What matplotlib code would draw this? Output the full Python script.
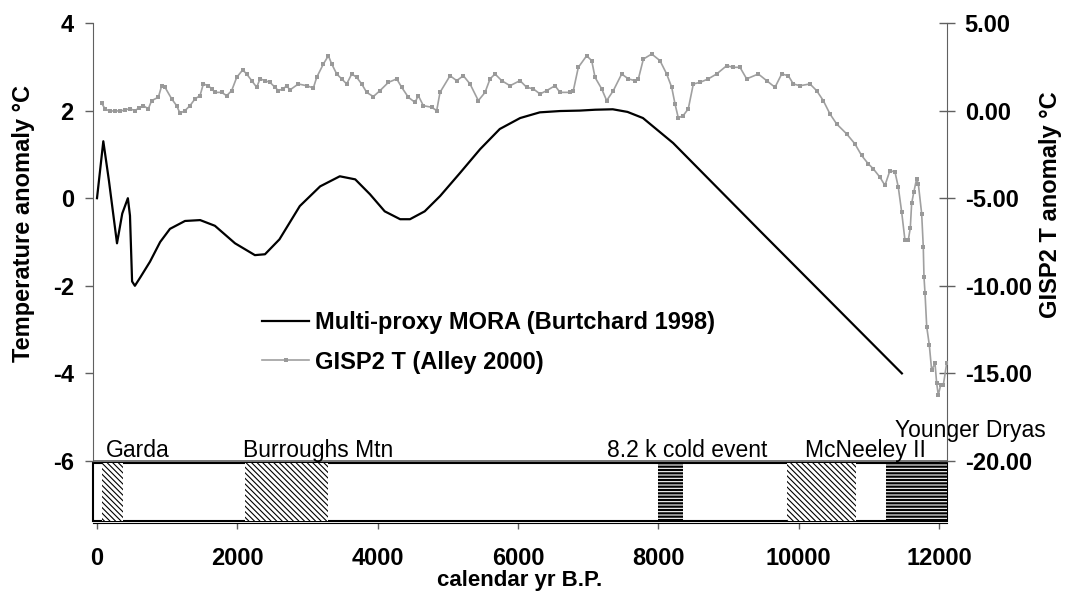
import matplotlib
matplotlib.use("Agg")
import matplotlib.pyplot as plt
from matplotlib.patches import Rectangle

plt.rcParams['font.family'] = ['Liberation Sans', 'DejaVu Sans']
plt.rcParams['hatch.linewidth'] = 0.8

# Multi-proxy MORA (Burtchard 1998), left axis, deg C
mora_yr = [0, 90, 170, 285, 360, 440, 470, 500, 540, 620, 755, 900, 1040, 1254,
           1470, 1680, 1967, 2250, 2394, 2600, 2890, 3180, 3460, 3680, 3890,
           4100, 4320, 4460, 4670, 4890, 5170, 5460, 5740, 6030, 6310, 6600,
           6880, 7100, 7350, 7560, 7780, 8210, 9450, 11470]
mora_t = [0.0, 1.3, 0.4, -1.03, -0.35, 0.0, -0.4, -1.9, -2.0, -1.8, -1.45, -1.0,
          -0.7, -0.52, -0.5, -0.63, -1.03, -1.3, -1.28, -0.94, -0.18, 0.27, 0.5,
          0.43, 0.09, -0.3, -0.48, -0.48, -0.3, 0.05, 0.57, 1.12, 1.58, 1.83,
          1.96, 1.99, 2.0, 2.02, 2.03, 1.97, 1.83, 1.26, -0.75, -4.0]

# GISP2 T (Alley 2000), right axis, deg C
gisp_yr = [67, 114, 185, 260, 328, 400, 470, 540, 600, 660, 731, 779, 874, 922,
           969, 1064, 1135, 1183, 1254, 1325, 1397, 1468, 1515, 1586, 1634, 1682,
           1777, 1848, 1919, 1991, 2076, 2133, 2204, 2276, 2323, 2394, 2466,
           2537, 2584, 2655, 2703, 2750, 2869, 2988, 3083, 3131, 3226, 3297,
           3345, 3416, 3487, 3558, 3630, 3701, 3772, 3843, 3938, 4033, 4152,
           4271, 4342, 4437, 4532, 4579, 4651, 4770, 4841, 4888, 5031, 5126,
           5221, 5316, 5434, 5530, 5601, 5672, 5767, 5886, 6028, 6123, 6218,
           6313, 6408, 6527, 6598, 6741, 6788, 6859, 6978, 7050, 7097, 7192,
           7263, 7358, 7477, 7572, 7667, 7715, 7786, 7905, 8023, 8118, 8190,
           8237, 8284, 8355, 8426, 8498, 8593, 8711, 8830, 8973, 9068, 9163,
           9258, 9424, 9543, 9662, 9757, 9852, 9923, 10018, 10160, 10255, 10350,
           10445, 10540, 10683, 10801, 10896, 10991, 11062, 11157, 11229, 11300,
           11372, 11419, 11467, 11514, 11561, 11590, 11609, 11640, 11680, 11704,
           11752, 11775, 11785, 11800, 11824, 11861, 11894, 11942, 11966, 11989,
           12023, 12061, 12108]
gisp_t = [0.42, 0.1, -0.04, 0.0, -0.04, 0.05, 0.1, 0.0, 0.15, 0.28, 0.1, 0.57,
          0.76, 1.42, 1.33, 0.67, 0.28, -0.15, 0.0, 0.28, 0.67, 0.85, 1.52, 1.42,
          1.24, 1.04, 1.04, 0.85, 1.14, 1.9, 2.32, 2.09, 1.71, 1.33, 1.81, 1.71,
          1.61, 1.33, 1.14, 1.24, 1.42, 1.18, 1.52, 1.42, 1.29, 1.9, 2.66, 3.13,
          2.66, 2.09, 1.81, 1.52, 2.09, 1.9, 1.52, 1.04, 0.8, 1.14, 1.61, 1.81,
          1.33, 0.76, 0.47, 0.85, 0.28, 0.19, 0.0, 1.04, 1.99, 1.71, 1.99, 1.52,
          0.57, 1.04, 1.81, 2.09, 1.71, 1.42, 1.71, 1.33, 1.24, 0.95, 1.14, 1.42,
          1.04, 1.04, 1.14, 2.47, 3.13, 2.85, 1.9, 1.24, 0.57, 1.14, 2.09, 1.81,
          1.71, 1.81, 2.94, 3.23, 2.85, 2.09, 1.33, 0.38, -0.42, -0.28, 0.1, 1.52,
          1.61, 1.81, 2.09, 2.56, 2.47, 2.47, 1.81, 2.09, 1.71, 1.33, 2.09, 1.99,
          1.52, 1.42, 1.52, 1.14, 0.57, -0.19, -0.76, -1.33, -1.9, -2.56, -3.04,
          -3.32, -3.8, -4.27, -3.42, -3.51, -4.37, -5.79, -7.4, -7.4, -6.7, -5.3,
          -4.65, -3.89, -4.17, -5.88, -7.78, -9.49, -10.44, -12.34, -13.38,
          -14.81, -14.43, -15.57, -16.23, -15.66, -15.66, -14.43]

# cold events shown in the lower box
event_names = ['Garda', 'Burroughs Mtn', '8.2 k cold event', 'McNeeley II', 'Younger Dryas']
event_start = [67, 2110, 7995, 9833, 11244]
event_end = [375, 3290, 8350, 10817, 12113]
event_label_x = [128, 2081, 7268, 10090, 11372]

x_ticks = [0, 2000, 4000, 6000, 8000, 10000, 12000]
left_ticks = [4, 2, 0, -2, -4, -6]
right_ticks = [5, 0, -5, -10, -15, -20]

fig = plt.figure(figsize=(10.7, 5.96), dpi=100)
ax = fig.add_axes([93 / 1070, 1 - 523 / 596, (947 - 93) / 1070, (523 - 23) / 596])
ax2 = ax.twinx()

xmin, xmax = -57, 12113
ymin, ymax = -7.416, 4
ax.set_xlim(xmin, xmax)
ax.set_ylim(ymin, ymax)
ax2.set_ylim(2.5 * ymin - 5, 2.5 * ymax - 5)

gray = '#a0a0a0'
l2, = ax2.plot(gisp_yr, gisp_t, color=gray, lw=1.2, marker='s', markersize=3.2,
               markeredgewidth=0, markerfacecolor='#999999', label='GISP2 T (Alley 2000)', zorder=3)
l1, = ax.plot(mora_yr, mora_t, color='black', lw=1.6, label='Multi-proxy MORA (Burtchard 1998)', zorder=4)

# lower event box
ax.axhline(-6, color='#606060', lw=1.2, zorder=2)
ax.add_patch(Rectangle((xmin, -7.37), xmax - xmin, 1.33, facecolor='white',
                       edgecolor='black', lw=1.5, zorder=1, clip_on=False))
hatches = ['\\' * 6, '\\' * 6, '-----', '\\' * 6, '-----']
for name, x0, x1, lx, h in zip(event_names, event_start, event_end, event_label_x, hatches):
    if h.startswith('-'):
        ax.add_patch(Rectangle((x0, -7.37), x1 - x0, 1.33, facecolor='black',
                               edgecolor='white', hatch=h, lw=0, zorder=2))
    else:
        ax.add_patch(Rectangle((x0, -7.37), x1 - x0, 1.33, facecolor='white',
                               edgecolor='black', hatch=h, lw=0, zorder=2))
    ly = -5.46 if name == 'Younger Dryas' else -5.91
    ax.text(lx, ly, name, fontsize=16.5, va='baseline', ha='left', zorder=5)

# axes styling
ax.spines['top'].set_visible(False)
ax2.spines['top'].set_visible(False)
ax2.spines['left'].set_visible(False)
ax2.spines['bottom'].set_visible(False)
ax.spines['right'].set_visible(False)
ax.spines['left'].set_color('#606060')
ax.spines['left'].set_bounds(-6, 4)
ax2.spines['right'].set_color('#606060')
ax2.spines['right'].set_bounds(-20, 5)
ax.spines['bottom'].set_color('black')

ax.set_xticks(x_ticks)
ax.set_xticklabels([str(v) for v in x_ticks], fontsize=17, fontweight='bold')
ax.set_yticks(left_ticks)
ax.set_yticklabels([str(v) for v in left_ticks], fontsize=17, fontweight='bold')
ax2.set_yticks(right_ticks)
ax2.set_yticklabels(['%.2f' % v for v in right_ticks], fontsize=17, fontweight='bold')

ax.tick_params(axis='y', direction='out', length=5.8, width=1, color='#606060', pad=8)
ax.tick_params(axis='x', direction='out', length=4.5, width=1, color='#606060', pad=12.5)
ax2.tick_params(axis='y', direction='inout', length=11.5, width=1, color='#606060', pad=7)

ax.set_xlabel('calendar yr B.P.', fontsize=16, fontweight='bold', labelpad=0.5)
fig.text(23.5 / 1070, 1 - 224 / 596, 'Temperature anomaly °C', rotation=90,
         fontsize=17, fontweight='bold', ha='center', va='center')
fig.text(1050 / 1070, 1 - 205 / 596, 'GISP2 T anomaly °C', rotation=90,
         fontsize=17, fontweight='bold', ha='center', va='center')

ax.legend(handles=[l1, l2], loc='upper left', bbox_to_anchor=(262 / 1070, 1 - 311 / 596),
          bbox_transform=fig.transFigure, frameon=False, borderpad=0, borderaxespad=0,
          handlelength=2.0, handletextpad=0.25, labelspacing=0.7,
          prop={'size': 17, 'weight': 'bold'})

fig.savefig('out.png', dpi=100)
